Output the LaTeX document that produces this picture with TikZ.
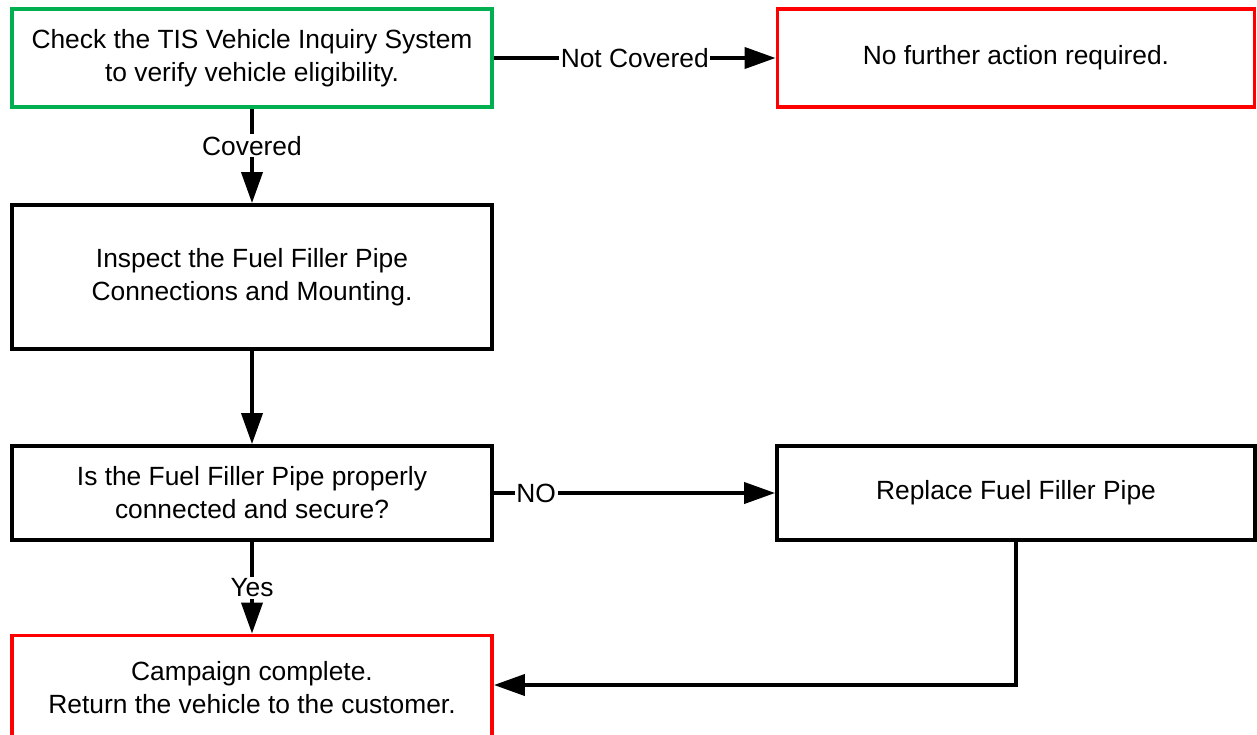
\documentclass[tikz,border=0pt]{standalone}
\usepackage{fontspec}
\setmainfont{Liberation Sans}
\usetikzlibrary{arrows.meta}
\definecolor{okgreen}{RGB}{0,176,80}
\begin{document}
\begin{tikzpicture}[
        x=0.02cm, y=-0.02cm,
        line width=2.2pt,
        font=\fontsize{15}{18.8}\selectfont
    ]
    \tikzset{
        stepbox/.style = {rectangle, draw=black, align=center, fill=white, minimum width=9.6cm, minimum height=1.96cm, inner sep=0pt},
        flow/.style = {-{Triangle[length=0.62cm,width=0.42cm]}, line join=miter},
        tag/.style = {fill=white, inner sep=1pt, font=\fontsize{15}{18}\selectfont},
    }
    \useasboundingbox (0,0) rectangle (1257,734);
    \node[stepbox,draw=okgreen] (check) at (252,58) {Check the TIS Vehicle Inquiry System\\to verify vehicle eligibility.};
    \node[stepbox,draw=red,minimum width=9.54cm] (noaction) at (1016,58) {No further action required.};
    \node[stepbox,minimum height=2.88cm] (inspect) at (252,277) {Inspect the Fuel Filler Pipe\\Connections and Mounting.};
    \node[stepbox,minimum height=1.88cm] (question) at (252,493) {Is the Fuel Filler Pipe properly\\connected and secure?};
    \node[stepbox,minimum width=9.56cm,minimum height=1.88cm] (replace) at (1016,493) {Replace Fuel Filler Pipe};
    \node[stepbox,draw=red,minimum height=2.1cm] (done) at (252,688) {Campaign complete.\\Return the vehicle to the customer.};

    \draw[flow] (check) -- node[tag] {Not Covered} (noaction);
    \draw[flow] (check) -- node[tag,pos=0.39] {Covered} (inspect);
    \draw[flow] (inspect) -- (question);
    \draw[flow] (question) -- node[tag,pos=0.15] {NO} (replace);
    \draw[flow] (question) -- node[tag] {Yes} (done);
    \draw[flow] (replace.south) |- ([yshift=0.06cm]done.east);
\end{tikzpicture}
\end{document}
